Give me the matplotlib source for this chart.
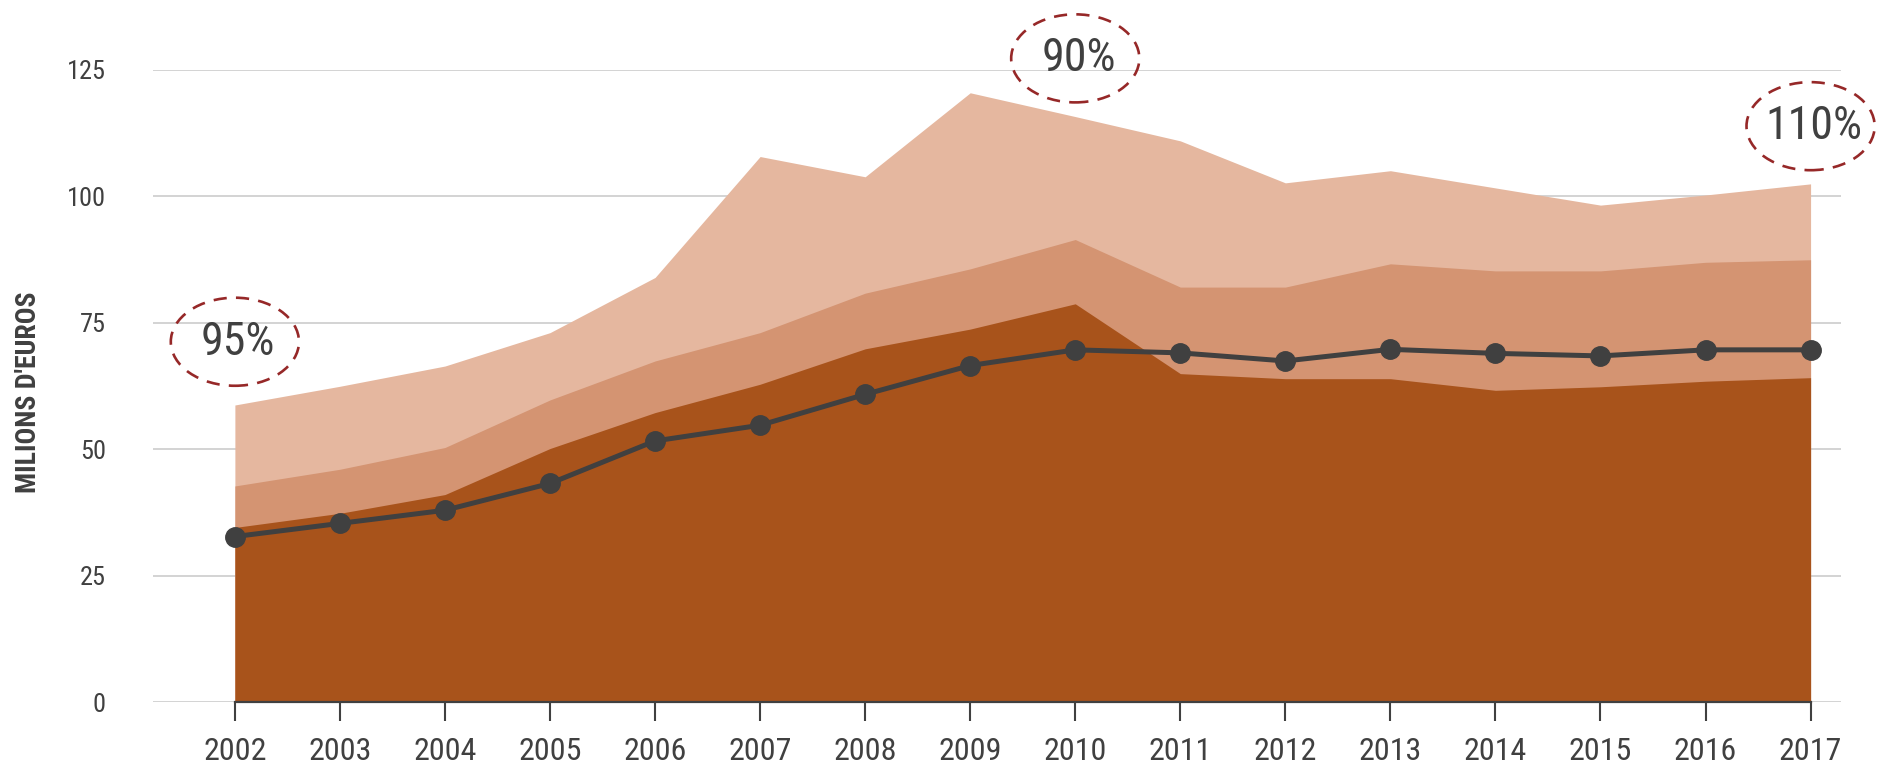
import matplotlib.pyplot as plt
from matplotlib.patches import Ellipse

years = list(range(2002, 2018))
total_top = [58.7, 62.4, 66.4, 73.0, 83.9, 107.8, 103.8, 120.4, 115.7, 110.9, 102.6, 105.0, 101.6, 98.2, 100.2, 102.4]
middle_top = [42.7, 46.0, 50.3, 59.7, 67.4, 73.0, 80.8, 85.6, 91.4, 82.0, 82.0, 86.6, 85.2, 85.2, 86.9, 87.4]
base_top = [34.5, 37.3, 41.0, 50.1, 57.2, 62.8, 69.8, 73.7, 78.7, 64.9, 63.9, 63.9, 61.6, 62.3, 63.4, 64.1]
line_vals = [32.7, 35.3, 37.9, 43.2, 51.6, 54.7, 60.8, 66.5, 69.6, 69.0, 67.4, 69.7, 68.9, 68.4, 69.6, 69.6]

note_years = [2002, 2010, 2017]
note_y = [71.2, 127.2, 113.8]
note_text = ["95%", "90%", "110%"]

yticks = [0, 25, 50, 75, 100, 125]

FONT = ['Roboto Condensed', 'DejaVu Sans']
GREY = "#404040"

plt.rcParams['font.family'] = FONT
plt.rcParams['font.stretch'] = 'condensed'

fig = plt.figure(figsize=(18.79, 7.68), dpi=100)
ax = fig.add_axes([0.0814, 0.0859, 0.8984, 0.8236])

ax.fill_between(years, 0, total_top, color="#e5b79f", lw=0, zorder=2)
ax.fill_between(years, 0, middle_top, color="#d49472", lw=0, zorder=3)
ax.fill_between(years, 0, base_top, color="#a8531b", lw=0, zorder=4)
ax.plot(years, line_vals, color=GREY, lw=3.6, marker="o", markersize=14, zorder=6)

# dashed ellipses round the percentages
for yr, yv, txt in zip(note_years, note_y, note_text):
    ax.add_patch(Ellipse((yr, yv), 1.22, 17.4, fill=False, edgecolor="#962828",
                         lw=1.9, linestyle=(0, (5, 3.5)), clip_on=False, zorder=7))
    ax.text(yr + 0.03, yv, txt, fontsize=33, color=GREY,
            ha="center", va="center", zorder=8, clip_on=False)

ax.set_xlim(2001.22, 2017.29)
ax.set_ylim(0, 125)
ax.set_yticks(yticks)
ax.set_xticks(years)
ax.yaxis.grid(True, color="#cccccc", lw=1.2, zorder=0)
ax.set_axisbelow(True)

for s in ["top", "right", "left"]:
    ax.spines[s].set_visible(False)
ax.spines["bottom"].set_bounds(2002, 2017)
ax.spines["bottom"].set_color(GREY)
ax.spines["bottom"].set_linewidth(1.6)
ax.spines["bottom"].set_zorder(5)

ax.tick_params(axis="x", length=14, width=1.5, color=GREY, pad=11, labelsize=23, labelcolor=GREY)
ax.tick_params(axis="y", length=0, pad=34, labelsize=19, labelcolor=GREY)

ax.set_ylabel("MILIONS D'EUROS", fontsize=20, fontweight="bold", color=GREY)
ax.yaxis.set_label_coords(-0.066, 0.49)

fig.savefig("out.png", dpi=100)
